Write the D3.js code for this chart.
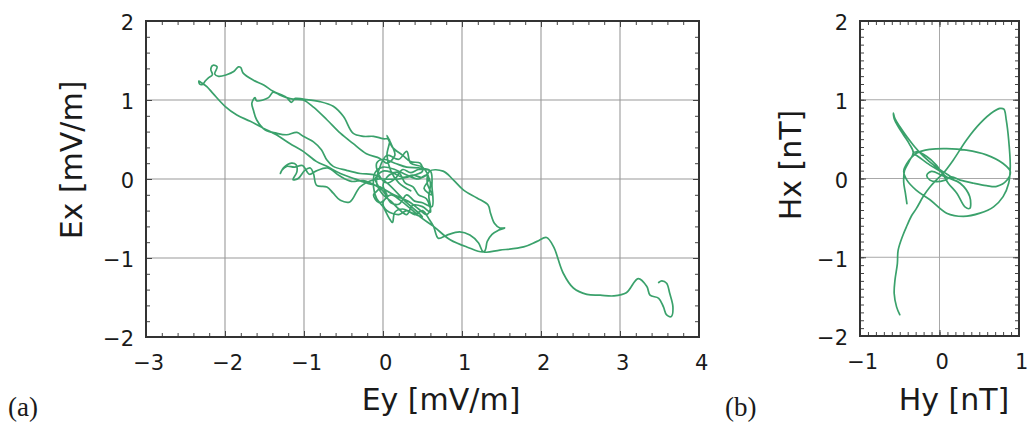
<!DOCTYPE html>
<html>
<head>
<meta charset="utf-8">
<script src="https://cdn.jsdelivr.net/npm/d3@7"></script>
<style>
  body { margin: 0; background: #fff; }
  svg { display: block; }
</style>
</head>
<body>
<svg id="chart" width="1032" height="425"></svg>
<script>
// Tick values for each axis
const eyTicks = [-3, -2, -1, 0, 1, 2, 3, 4];
const exTicks = [-2, -1, 0, 1, 2];
const hyTicks = [-1, 0, 1];
const hxTicks = [-2, -1, 0, 1, 2];

// Electric field hodogram: Ey [mV/m] (horizontal) and Ex [mV/m] (vertical)
const eyValues = [
  0.35, 0.20, 0.10, 0.05, 0.08, 0.00, -0.12, -0.25, -0.38, -0.50, -0.63, -0.80, -1.01, -1.11, -1.16, -1.22, -1.39, -1.51, -1.64, -1.77, -1.80, -1.83, -1.89, -1.98, -2.08, -2.13, -2.10, -2.15, -2.18, -2.16, -2.21, -2.25, -2.28, -2.32, -2.33, -2.30,
  -2.23, -2.15, -2.00, -1.85, -1.68, -1.51, -1.35, -1.18, -1.01, -0.84, -0.71, -0.54, -0.38, -0.21, -0.04,
  0.10, 0.25, 0.35, 0.45, 0.55, 0.60, 0.58, 0.60, 0.55, 0.45, 0.30, 0.15, 0.00, -0.10, -0.12, -0.08, 0.00, 0.08, 0.12, 0.15, 0.25, 0.35, 0.50,
  0.30, 0.05, -0.10, -0.29, -0.46, -0.63, -0.71, -0.78, -0.88, -1.01, -1.09, -1.22, -1.35, -1.49, -1.60, -1.64, -1.66, -1.62, -1.60, -1.45, -1.39, -1.30, -1.22, -1.14, -1.01, -0.88, -0.71, -0.54, -0.38, -0.21, -0.04,
  0.05, 0.15, 0.10, 0.05, 0.12, 0.25, 0.35, 0.47, 0.50, 0.40, 0.20, -0.05, -0.12, -0.29, -0.42, -0.54, -0.63, -0.71, -0.84, -0.88, -0.92, -0.99, -1.07, -1.14, -1.09, -1.10, -1.16, -1.26, -1.30, -1.28, -1.22, -1.12, -1.02, -0.93, -0.85, -0.70, -0.55, -0.40, -0.25, -0.10,
  0.00, 0.10, 0.20, 0.30, 0.40, 0.50, 0.62, 0.62, 0.60, 0.45, 0.35, 0.25, 0.15, 0.05, -0.05, -0.08, 0.00, 0.15, 0.30, 0.45, 0.59,
  0.50, 0.38, 0.25, 0.12, 0.00, -0.10, -0.05, -0.12, -0.05, 0.05, 0.00, 0.08, 0.20, 0.28, 0.38, 0.45, 0.55, 0.60, 0.50, 0.38, 0.30, 0.20, 0.10, 0.00, -0.08, -0.05, 0.05, 0.20, 0.30, 0.35, 0.50, 0.58, 0.52, 0.62, 0.56, 0.59,
  0.76, 0.89, 1.02, 1.19, 1.33, 1.36, 1.41, 1.48, 1.54, 1.46, 1.38, 1.32, 1.28, 1.06, 0.85, 0.64, 0.47, 0.22,
  0.10, 0.00, 0.05, 0.20, 0.30, 0.40, 0.50, 0.59, 0.64, 0.70, 0.81, 0.97, 1.10, 1.21, 1.27,
  1.48, 1.78, 1.95, 2.07, 2.16, 2.28, 2.41, 2.58, 2.75, 2.92, 3.08, 3.23, 3.34, 3.38, 3.49, 3.55, 3.59, 3.65, 3.67, 3.63, 3.59, 3.53, 3.49
];
const exValues = [
  -0.15, -0.05, 0.10, 0.30, 0.50, 0.51, 0.54, 0.54, 0.58, 0.79, 0.92, 0.98, 1.01, 1.02, 0.97, 1.03, 1.11, 1.19, 1.25, 1.34, 1.41, 1.42, 1.36, 1.32, 1.30, 1.33, 1.42, 1.44, 1.39, 1.32, 1.28, 1.24, 1.20, 1.20, 1.24, 1.22,
  1.17, 1.08, 0.92, 0.81, 0.73, 0.64, 0.56, 0.45, 0.35, 0.22, 0.16, 0.07, 0.01, -0.05, -0.10,
  -0.18, -0.25, -0.30, -0.38, -0.45, -0.38, -0.22, -0.05, 0.05, 0.00, 0.05, 0.12, 0.15, 0.08, -0.10, -0.25, -0.35, -0.50, -0.55, -0.42, -0.38, -0.42, -0.48,
  -0.30, -0.05, 0.05, 0.07, 0.11, 0.16, 0.24, 0.37, 0.47, 0.54, 0.59, 0.56, 0.58, 0.62, 0.75, 0.87, 0.96, 1.03, 0.99, 1.03, 1.10, 1.06, 1.03, 1.01, 1.00, 0.91, 0.75, 0.58, 0.45, 0.32, 0.26,
  0.20, 0.30, 0.45, 0.55, 0.40, 0.30, 0.22, 0.20, 0.10, 0.05, 0.00, 0.00, -0.01, -0.10, -0.29, -0.27, -0.18, -0.10, -0.08, 0.07, 0.14, 0.11, 0.01, -0.01, 0.09, 0.18, 0.20, 0.14, 0.07, 0.11, 0.16, 0.15, 0.17, 0.06, 0.10, 0.14, 0.04, -0.03, -0.02, -0.08,
  -0.15, -0.30, -0.32, -0.20, -0.28, -0.30, -0.35, -0.10, 0.10, 0.12, 0.08, 0.12, 0.00, -0.05, 0.05, 0.20, 0.25, 0.20, 0.15, 0.14, 0.11,
  0.02, 0.05, 0.02, 0.08, 0.10, 0.00, -0.12, -0.20, -0.30, -0.22, -0.08, 0.05, 0.08, -0.05, -0.10, -0.20, -0.25, -0.42, -0.35, -0.33, -0.45, -0.38, -0.28, -0.20, -0.05, 0.12, 0.30, 0.25, 0.35, 0.20, 0.15, 0.00, -0.12, -0.20, -0.05, 0.10,
  0.10, -0.01, -0.14, -0.24, -0.33, -0.43, -0.56, -0.62, -0.62, -0.65, -0.70, -0.79, -0.92, -0.86, -0.77, -0.60, -0.48, -0.27,
  -0.20, -0.30, -0.40, -0.45, -0.40, -0.45, -0.40, -0.52, -0.60, -0.75, -0.71, -0.67, -0.71, -0.81, -0.92,
  -0.90, -0.86, -0.79, -0.74, -0.86, -1.19, -1.38, -1.46, -1.47, -1.48, -1.44, -1.26, -1.36, -1.47, -1.51, -1.62, -1.72, -1.74, -1.62, -1.45, -1.32, -1.29, -1.31
];

// Magnetic field hodogram: Hy [nT] (horizontal) and Hx [nT] (vertical)
const hyValues = [
  -0.50, -0.54, -0.57, -0.56, -0.53, -0.52, -0.46, -0.41, -0.35, -0.29, -0.20, -0.13, -0.06, 0.05, 0.17, 0.34, 0.51, 0.68, 0.76, 0.81, 0.84, 0.87, 0.89, 0.87, 0.80, 0.68, 0.51, 0.30, 0.09, -0.12, -0.29, -0.41, -0.45, -0.41, -0.29, -0.12, 0.09, 0.34, 0.59, 0.80, 0.89, 0.85, 0.72, 0.59, 0.43, 0.26, 0.15, 0.07, -0.04, -0.12, -0.16, -0.10, 0.03, 0.13, 0.26, 0.38, 0.38, 0.32, 0.22, 0.11, 0.05, -0.04, -0.16, -0.29, -0.33, -0.27, -0.12, 0.01, 0.09, 0.17, 0.10, -0.05, -0.20, -0.31, -0.41, -0.50, -0.56, -0.58, -0.57, -0.52, -0.45, -0.38, -0.33, -0.38, -0.44, -0.45, -0.43, -0.41
];
const hxValues = [
  -1.73, -1.63, -1.46, -1.29, -1.08, -0.91, -0.72, -0.60, -0.47, -0.38, -0.22, -0.12, -0.04, 0.07, 0.23, 0.49, 0.70, 0.85, 0.89, 0.88, 0.74, 0.49, 0.15, -0.06, -0.23, -0.36, -0.44, -0.48, -0.44, -0.27, -0.15, -0.02, 0.09, 0.19, 0.32, 0.37, 0.38, 0.36, 0.30, 0.19, 0.09, -0.02, -0.10, -0.09, -0.06, -0.02, 0.02, -0.02, -0.04, -0.02, 0.04, 0.09, 0.04, 0.00, -0.06, -0.23, -0.38, -0.36, -0.19, -0.06, 0.04, 0.17, 0.28, 0.34, 0.32, 0.28, 0.17, 0.09, 0.02, 0.00, 0.05, 0.15, 0.28, 0.40, 0.53, 0.66, 0.76, 0.83, 0.76, 0.66, 0.55, 0.44, 0.33, 0.22, 0.10, -0.05, -0.18, -0.32
];

const svg = d3.select("#chart");
const lineColor = "#3aa16b";
const textColor = "#1a1a1a";
const fontFamily = "'DejaVu Sans', Verdana, sans-serif";

function drawPanel(cfg) {
  const x = d3.scaleLinear().domain(cfg.xDomain).range([cfg.left, cfg.right]);
  const y = d3.scaleLinear().domain(cfg.yDomain).range([cfg.bottom, cfg.top]);
  const g = svg.append("g");

  // grid lines at interior major ticks
  const grid = g.append("g").attr("stroke", cfg.gridColor).attr("stroke-width", cfg.gridWidth);
  cfg.xTicks.filter(v => v > cfg.xDomain[0] && v < cfg.xDomain[1]).forEach(v => {
    grid.append("line").attr("x1", x(v)).attr("x2", x(v)).attr("y1", cfg.top).attr("y2", cfg.bottom);
  });
  cfg.yTicks.filter(v => v > cfg.yDomain[0] && v < cfg.yDomain[1]).forEach(v => {
    grid.append("line").attr("y1", y(v)).attr("y2", y(v)).attr("x1", cfg.left).attr("x2", cfg.right);
  });

  // inward-facing minor and major ticks on all four sides
  const minorX = d3.range(cfg.xDomain[0], cfg.xDomain[1] + 1e-9, cfg.xMinor);
  const minorY = d3.range(cfg.yDomain[0], cfg.yDomain[1] + 1e-9, cfg.yMinor);
  const tickLayers = [
    [d3.axisBottom(x), `translate(0,${cfg.bottom})`, minorX, cfg.xTicks],
    [d3.axisTop(x), `translate(0,${cfg.top})`, minorX, cfg.xTicks],
    [d3.axisLeft(y), `translate(${cfg.left},0)`, minorY, cfg.yTicks],
    [d3.axisRight(y), `translate(${cfg.right},0)`, minorY, cfg.yTicks]
  ];
  tickLayers.forEach(([axis, tr, minor, major]) => {
    const a1 = g.append("g").attr("transform", tr)
      .call(axis.tickValues(minor).tickSize(-4).tickFormat(""));
    a1.select(".domain").remove();
    a1.selectAll("line").attr("stroke", "#444").attr("stroke-width", 1);
    const a2 = g.append("g").attr("transform", tr)
      .call(axis.tickValues(major).tickSize(-6).tickFormat(""));
    a2.select(".domain").remove();
    a2.selectAll("line").attr("stroke", "#444").attr("stroke-width", 1);
  });

  // tick labels
  const fmt = d3.format("d");
  const bx = g.append("g").attr("transform", `translate(0,${cfg.bottom})`)
    .call(d3.axisBottom(x).tickValues(cfg.xTicks).tickSize(0).tickPadding(18).tickFormat(fmt));
  bx.select(".domain").remove();
  bx.selectAll("text").attr("font-size", 21).attr("font-family", fontFamily).attr("fill", textColor)
    .attr("dx", "0.1em");
  const ly = g.append("g").attr("transform", `translate(${cfg.left},0)`)
    .call(d3.axisLeft(y).tickValues(cfg.yTicks).tickSize(0).tickPadding(12).tickFormat(fmt));
  ly.select(".domain").remove();
  ly.selectAll("text").attr("font-size", 21).attr("font-family", fontFamily).attr("fill", textColor)
    .attr("dy", "0.42em");

  // frame
  g.append("rect")
    .attr("x", cfg.left).attr("y", cfg.top)
    .attr("width", cfg.right - cfg.left).attr("height", cfg.bottom - cfg.top)
    .attr("fill", "none").attr("stroke", "#333").attr("stroke-width", 2);

  // trajectory
  const pts = cfg.xs.map((v, i) => [v, cfg.ys[i]]);
  const line = d3.line().x(d => x(d[0])).y(d => y(d[1])).curve(d3.curveCatmullRom.alpha(0.5));
  g.append("path").datum(pts).attr("d", line)
    .attr("fill", "none").attr("stroke", lineColor).attr("stroke-width", 1.7)
    .attr("stroke-linejoin", "round").attr("stroke-linecap", "round");

  // axis titles
  g.append("text").text(cfg.xLabel)
    .attr("x", cfg.xLabelPos[0]).attr("y", cfg.xLabelPos[1])
    .attr("text-anchor", "middle").attr("font-size", 30).attr("font-family", fontFamily).attr("fill", textColor);
  g.append("text").text(cfg.yLabel)
    .attr("transform", `translate(${cfg.yLabelPos[0]},${cfg.yLabelPos[1]}) rotate(-90)`)
    .attr("text-anchor", "middle").attr("font-size", 30).attr("font-family", fontFamily).attr("fill", textColor);

  // panel letter
  g.append("text").text(cfg.tag)
    .attr("x", cfg.tagPos[0]).attr("y", cfg.tagPos[1])
    .attr("font-size", 27).attr("font-family", "'Liberation Serif', 'Times New Roman', serif").attr("fill", textColor);
}

drawPanel({
  left: 146, right: 699, top: 21, bottom: 337,
  xDomain: [-3, 4], yDomain: [-2, 2],
  xTicks: eyTicks, yTicks: exTicks, xMinor: 0.2, yMinor: 0.2,
  gridColor: "#9a9a9a", gridWidth: 1.1,
  xs: eyValues, ys: exValues,
  xLabel: "Ey [mV/m]", xLabelPos: [441, 410],
  yLabel: "Ex [mV/m]", yLabelPos: [82, 160],
  tag: "(a)", tagPos: [8, 416]
});

drawPanel({
  left: 860, right: 1019, top: 21, bottom: 336,
  xDomain: [-1, 1], yDomain: [-2, 2],
  xTicks: hyTicks, yTicks: hxTicks, xMinor: 0.1, yMinor: 0.1,
  gridColor: "#a8a8a8", gridWidth: 1,
  xs: hyValues, ys: hxValues,
  xLabel: "Hy [nT]", xLabelPos: [954, 410],
  yLabel: "Hx [nT]", yLabelPos: [801, 165],
  tag: "(b)", tagPos: [725, 416]
});
</script>
</body>
</html>
